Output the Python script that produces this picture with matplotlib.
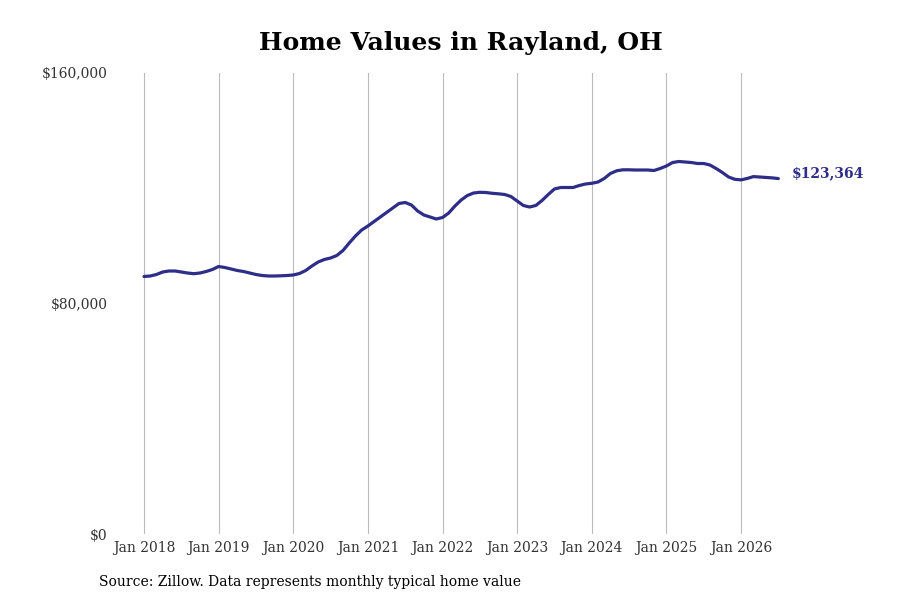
import matplotlib
matplotlib.use("Agg")
import matplotlib.pyplot as plt
import numpy as np

# Monthly typical home values, Jan 2018 .. Jul 2026
values = [
    89371, 89544, 90065, 90932, 91279, 91279, 90932, 90585, 90342, 90585, 91106, 91800,   # 2018
    92841, 92494, 91974, 91453, 91106, 90585, 90065, 89718, 89544, 89544, 89614, 89718,   # 2019
    89891, 90412, 91453, 93015, 94403, 95271, 95791, 96659, 98394, 100997, 103427, 105509,  # 2020
    106898, 108459, 110021, 111583, 113145, 114707, 115054, 114186, 112104, 110715, 110021, 109327,  # 2021
    109848, 111409, 113839, 115921, 117483, 118351, 118594, 118524, 118247, 118073, 117830, 117136,  # 2022
    115574, 114013, 113492, 114013, 115748, 117830, 119739, 120260, 120260, 120260, 120954, 121475,  # 2023
    121718, 122169, 123383, 125119, 126056, 126403, 126403, 126333, 126333, 126333, 126160, 126854,  # 2024
    127722, 128937, 129284, 129110, 128937, 128590, 128590, 128069, 126854, 125466, 123904, 123110,  # 2025
    122900, 123400, 124050, 123900, 123750, 123600, 123364,                                      # 2026
]
tick_labels = ["Jan 2018", "Jan 2019", "Jan 2020", "Jan 2021", "Jan 2022",
               "Jan 2023", "Jan 2024", "Jan 2025", "Jan 2026"]
y_ticks = [0, 80000, 160000]
y_tick_labels = ["$0", "$80,000", "$160,000"]
end_label = "$123,364"

color = "#2E2D88"
plt.rcParams['font.family'] = ['DejaVu Serif']

fig = plt.figure(figsize=(9, 6), dpi=100)
ax = fig.add_axes([117/900, 66/600, (800-117)/900, (534-73)/600])

months = np.arange(len(values))
ax.plot(months, values, color=color, linewidth=2.3, solid_capstyle='round')

ax.set_xlim(-(144-117)/6.219, (800-144)/6.219)
ax.set_ylim(0, 160000)
ax.set_xticks(np.arange(0, 12*len(tick_labels), 12))
ax.set_xticklabels(tick_labels, fontsize=10, color="#333333")
ax.set_yticks(y_ticks)
ax.set_yticklabels(y_tick_labels, fontsize=10, color="#333333")
ax.tick_params(axis='both', length=0)
ax.tick_params(axis='x', pad=5)
ax.tick_params(axis='y', pad=7)
ax.grid(axis='x', color="#bbbbbb", linewidth=0.8)
ax.grid(axis='y', visible=False)
for s in ax.spines.values():
    s.set_visible(False)

ax.annotate(end_label, xy=(months[-1], values[-1]), xytext=(10, 4),
            textcoords='offset points', va='center', ha='left',
            fontsize=10, fontweight='bold', color=color)

fig.text(460.5/900, 1 - 43/600, "Home Values in Rayland, OH", ha='center', va='center',
         fontsize=18, fontweight='bold', color='black')
fig.text(99/900, 1 - 582/600, "Source: Zillow. Data represents monthly typical home value",
         ha='left', va='center', fontsize=10, color='black')

fig.savefig("out.png", dpi=100)
